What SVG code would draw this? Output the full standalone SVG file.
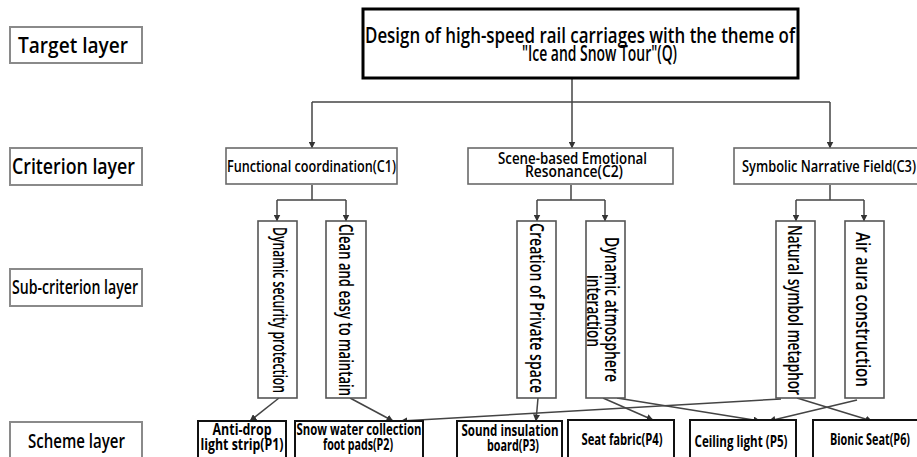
<svg xmlns="http://www.w3.org/2000/svg" width="917" height="457" viewBox="0 0 917 457">
  <defs>
    <marker id="arrow" markerUnits="userSpaceOnUse" markerWidth="7" markerHeight="7" refX="6.5" refY="3.5" orient="auto">
      <path d="M0,0 L7,3.5 L0,7 Z" fill="#333"/>
    </marker>
    <style>
      text { font-family: "Open Sans", "Noto Sans", "Liberation Sans", sans-serif; fill: #000; font-weight: 600; }
      .layer rect { fill: #fff; stroke: #8a8a8a; stroke-width: 2; }
      .layer text { font-size: 22px; }
      .crit rect { fill: #fff; stroke: #6a6a6a; stroke-width: 1.6; }
      .crit text { font-size: 16px; }
      .sub rect { fill: #fff; stroke: #555; stroke-width: 1.6; }
      .sub text { font-size: 20px; }
      .scheme rect { fill: #fff; stroke: #111; stroke-width: 2; }
      .scheme text { font-size: 16px; font-weight: 700; text-anchor: middle; }
      .goal rect { fill: #fff; stroke: #000; stroke-width: 3; }
      .goal text { font-size: 22px; }
      .links path { fill: none; stroke: #444; stroke-width: 1.5; }
      .links .arr { marker-end: url(#arrow); }
    </style>
  </defs>

  <!-- layer labels -->
  <g id="label-target" class="layer">
    <rect x="10" y="27" width="132" height="36"/>
    <text x="18" y="53" textLength="110" lengthAdjust="spacingAndGlyphs">Target layer</text>
  </g>
  <g id="label-criterion" class="layer">
    <rect x="10" y="148" width="132" height="37"/>
    <text x="12" y="174" textLength="123" lengthAdjust="spacingAndGlyphs">Criterion layer</text>
  </g>
  <g id="label-subcriterion" class="layer">
    <rect x="10" y="269" width="132" height="37"/>
    <text x="12" y="294" style="font-size:19px" textLength="126" lengthAdjust="spacingAndGlyphs">Sub-criterion layer</text>
  </g>
  <g id="label-scheme" class="layer">
    <rect x="10" y="422" width="132" height="40"/>
    <text x="28" y="448" style="font-size:20px" textLength="97" lengthAdjust="spacingAndGlyphs">Scheme layer</text>
  </g>

  <!-- connectors -->
  <g id="connectors" class="links">
    <path d="M572,78 V102"/>
    <path d="M312,102 H830"/>
    <path class="arr" d="M312,102 V148"/>
    <path class="arr" d="M572,102 V148"/>
    <path class="arr" d="M830,102 V148"/>

    <path d="M312,185 V200 M277,200 H346"/>
    <path class="arr" d="M277,200 V221"/>
    <path class="arr" d="M346,200 V221"/>

    <path d="M571,185 V200 M537,200 H605"/>
    <path class="arr" d="M537,200 V221"/>
    <path class="arr" d="M605,200 V221"/>

    <path d="M830,185 V200 M796,200 H864"/>
    <path class="arr" d="M796,200 V221"/>
    <path class="arr" d="M864,200 V221"/>

    <path class="arr" d="M279,398 L250,421"/>
    <path class="arr" d="M350,398 L393,421"/>
    <path class="arr" d="M538,398 L536,421"/>
    <path class="arr" d="M781,399 L401,421"/>
    <path class="arr" d="M603,398 L653,420"/>
    <path class="arr" d="M617,398 L760,421"/>
    <path class="arr" d="M857,400 L769,421"/>
    <path class="arr" d="M797,398 L872,421"/>
  </g>

  <!-- goal -->
  <g id="Q" class="goal">
    <rect x="363" y="9" width="435" height="69"/>
    <text x="365" y="43" textLength="430" lengthAdjust="spacingAndGlyphs">Design of high-speed rail carriages with the theme of</text>
    <text x="522" y="61" textLength="155" lengthAdjust="spacingAndGlyphs">"Ice and Snow Tour"(Q)</text>
  </g>

  <!-- criteria -->
  <g id="C1" class="crit">
    <rect x="226" y="148" width="171" height="36"/>
    <text x="227" y="172" textLength="169" lengthAdjust="spacingAndGlyphs">Functional coordination(C1)</text>
  </g>
  <g id="C2" class="crit">
    <rect x="468" y="148" width="205" height="36"/>
    <text x="498" y="164" textLength="149" lengthAdjust="spacingAndGlyphs">Scene-based Emotional</text>
    <text x="525" y="177" textLength="98" lengthAdjust="spacingAndGlyphs">Resonance(C2)</text>
  </g>
  <g id="C3" class="crit">
    <rect x="734" y="148" width="195" height="36"/>
    <text x="742" y="172" textLength="174" lengthAdjust="spacingAndGlyphs">Symbolic Narrative Field(C3)</text>
  </g>

  <!-- sub-criteria (vertical text) -->
  <g id="C11" class="sub">
    <rect x="258" y="221" width="39" height="177"/>
    <text transform="translate(273,227) rotate(90)" textLength="166" lengthAdjust="spacingAndGlyphs">Dynamic security protection</text>
  </g>
  <g id="C12" class="sub">
    <rect x="326" y="221" width="40" height="177"/>
    <text transform="translate(339,224) rotate(90)" textLength="172" lengthAdjust="spacingAndGlyphs">Clean and easy to maintain</text>
  </g>
  <g id="C21" class="sub">
    <rect x="517" y="221" width="39" height="177"/>
    <text transform="translate(530,223) rotate(90)" textLength="170" lengthAdjust="spacingAndGlyphs">Creation of Private space</text>
  </g>
  <g id="C22" class="sub">
    <rect x="586" y="221" width="39" height="177"/>
    <text transform="translate(605,237) rotate(90)" textLength="145" lengthAdjust="spacingAndGlyphs">Dynamic atmosphere</text>
    <text transform="translate(587,275) rotate(90)" textLength="72" lengthAdjust="spacingAndGlyphs">interaction</text>
  </g>
  <g id="C31" class="sub">
    <rect x="776" y="221" width="39" height="177"/>
    <text transform="translate(788,225) rotate(90)" textLength="170" lengthAdjust="spacingAndGlyphs">Natural symbol metaphor</text>
  </g>
  <g id="C32" class="sub">
    <rect x="845" y="221" width="39" height="177"/>
    <text transform="translate(856,232) rotate(90)" textLength="155" lengthAdjust="spacingAndGlyphs">Air aura construction</text>
  </g>

  <!-- schemes -->
  <g id="P1" class="scheme">
    <rect x="198" y="421" width="88" height="42"/>
    <text x="242" y="435" textLength="59" lengthAdjust="spacingAndGlyphs">Anti-drop</text>
    <text x="242" y="450" textLength="83" lengthAdjust="spacingAndGlyphs">light strip(P1)</text>
  </g>
  <g id="P2" class="scheme">
    <rect x="295" y="421" width="128" height="42"/>
    <text x="359" y="435" textLength="125" lengthAdjust="spacingAndGlyphs">Snow water collection</text>
    <text x="358" y="450" textLength="70" lengthAdjust="spacingAndGlyphs">foot pads(P2)</text>
  </g>
  <g id="P3" class="scheme">
    <rect x="457" y="421" width="105" height="42"/>
    <text x="510" y="436" textLength="97" lengthAdjust="spacingAndGlyphs">Sound insulation</text>
    <text x="513" y="451" textLength="52" lengthAdjust="spacingAndGlyphs">board(P3)</text>
  </g>
  <g id="P4" class="scheme">
    <rect x="568" y="420" width="106" height="43"/>
    <text x="622" y="445" textLength="81" lengthAdjust="spacingAndGlyphs">Seat fabric(P4)</text>
  </g>
  <g id="P5" class="scheme">
    <rect x="690" y="420" width="106" height="43"/>
    <text x="741" y="447" textLength="93" lengthAdjust="spacingAndGlyphs">Ceiling light (P5)</text>
  </g>
  <g id="P6" class="scheme">
    <rect x="813" y="420" width="110" height="43"/>
    <text x="870" y="445" textLength="80" lengthAdjust="spacingAndGlyphs">Bionic Seat(P6)</text>
  </g>
</svg>
